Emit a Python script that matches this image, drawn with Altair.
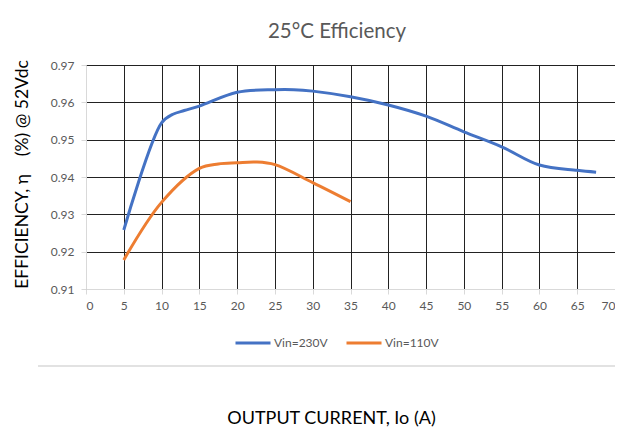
import altair as alt
import pandas as pd

# Data
current_230 = [5, 10, 11.5, 13, 15, 20, 25, 27.5, 30, 35, 40, 45, 50, 55, 60, 65, 67.5]
eff_230 = [0.9258, 0.9545, 0.9568, 0.9578, 0.9590, 0.9627, 0.9634, 0.9634, 0.9630, 0.9615,
           0.9593, 0.9563, 0.9521, 0.9481, 0.9432, 0.9418, 0.9413]
current_110 = [5, 10, 15, 17.5, 20, 22.5, 25, 30, 35]
eff_110 = [0.9178, 0.9332, 0.9423, 0.9435, 0.9438, 0.9440, 0.9433, 0.9385, 0.9334]
series_names = ["Vin=230V", "Vin=110V"]
series_colors = ["#4472C4", "#ED7D31"]
x_ticks = list(range(0, 75, 5))
y_ticks = [0.91, 0.92, 0.93, 0.94, 0.95, 0.96, 0.97]
chart_title = "25°C Efficiency"

df = pd.concat([
    pd.DataFrame({"I": current_230, "eff": eff_230, "series": series_names[0]}),
    pd.DataFrame({"I": current_110, "eff": eff_110, "series": series_names[1]}),
])
title_df = pd.DataFrame({"t": [chart_title]})

FONT = "Lato"
GREY = "#595959"
NB = "\u00a0"

lines = alt.Chart(df).mark_line(strokeWidth=3, interpolate="catmull-rom").encode(
    x=alt.X("I:Q",
            scale=alt.Scale(domain=[0, 70], nice=False, zero=False),
            axis=alt.Axis(values=x_ticks, title="OUTPUT CURRENT, Io (A)",
                          grid=True, gridColor="#222222", gridWidth=1,
                          domainColor="#d9d9d9", tickColor="#d9d9d9", tickSize=5,
                          labelColor=GREY, labelFont=FONT, labelFontSize=12, labelPadding=6,
                          titleFont=FONT, titleFontSize=18, titleFontWeight="normal",
                          titleColor="black", titleX=245, titleY=129,
                          titleBaseline="middle", titleAlign="center")),
    y=alt.Y("eff:Q",
            scale=alt.Scale(domain=[0.91, 0.97], nice=False, zero=False),
            axis=alt.Axis(values=y_ticks, format=".2f",
                          title=f"EFFICIENCY, η{NB}{NB}{NB}{NB}(%) @ 52Vdc",
                          grid=True, gridColor="#222222", gridWidth=1,
                          domainColor="#d9d9d9", tickColor="#d9d9d9", tickSize=5,
                          labelColor=GREY, labelFont=FONT, labelFontSize=12, labelPadding=7,
                          titleFont=FONT, titleFontSize=17.5, titleFontWeight="normal",
                          titleColor="black", titleX=-64, titleY=109,
                          titleBaseline="middle", titleAlign="center")),
    color=alt.Color("series:N",
                    scale=alt.Scale(domain=series_names, range=series_colors),
                    legend=alt.Legend(title=None, orient="none", direction="horizontal",
                                      legendX=148, legendY=259,
                                      symbolType="stroke", symbolSize=1225,
                                      symbolStrokeWidth=3, labelColor=GREY,
                                      labelFont=FONT, labelFontSize=12, labelOffset=2,
                                      columnPadding=12)),
)

title_text = alt.Chart(title_df).mark_text(
    font=FONT, fontSize=20.5, color=GREY, align="center", baseline="middle"
).encode(text="t:N", x=alt.value(251), y=alt.value(-33))

top_rule = alt.Chart(title_df).mark_rule(color="#d9d9d9", strokeWidth=1.5).encode(
    x=alt.value(-48), x2=alt.value(540), y=alt.value(-61.5))
bottom_rule = alt.Chart(title_df).mark_rule(color="#d9d9d9", strokeWidth=1.5).encode(
    x=alt.value(-48), x2=alt.value(540), y=alt.value(301))

chart = alt.layer(lines, title_text, top_rule, bottom_rule).properties(
    width=529, height=224,
    autosize=alt.AutoSizeParams(type="none"),
    padding={"left": 78, "top": 57, "right": 0, "bottom": 140},
).configure_view(stroke=None)

chart.save("out.html", embed_options={"renderer": "svg", "actions": False})
